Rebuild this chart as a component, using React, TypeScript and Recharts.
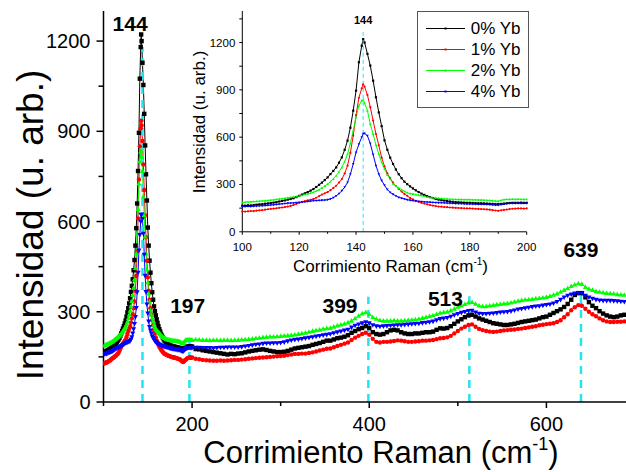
import React from 'react';
import { LineChart, Line, XAxis, YAxis, ReferenceLine, ReferenceDot, CartesianGrid, Legend, Label } from 'recharts';

const FONT = '"Liberation Sans", Arial, Helvetica, sans-serif';

const seriesNames = ['0% Yb', '1% Yb', '2% Yb', '4% Yb'];
const seriesKeys = ['s0', 's1', 's2', 's3'];
const seriesColors = ['#000000', '#ff0000', '#00ff00', '#0000ff'];
const seriesShapes = ['square', 'circle', 'triangleUp', 'triangleDown'];

// Raman shift, 100-200 region (inset + main peak)
const insetX = [
  100, 101, 102, 103, 104, 105, 106, 107, 108, 109,
  110, 111, 112, 113, 114, 115, 116, 117, 118, 119,
  120, 121, 122, 123, 124, 125, 126, 127, 128, 129,
  130, 131, 132, 133, 134, 135, 136, 137, 138, 139,
  140, 141, 142, 142.5,
  143, 144, 145, 146, 147, 148, 149,
  150, 151, 152, 153, 154, 155, 156, 157, 158, 159,
  160, 161, 162, 163, 164, 165, 166, 167, 168, 169,
  170, 171, 172, 173, 174, 175, 176, 177, 178, 179,
  180, 181, 182, 183, 184, 185, 186, 187, 188, 189,
  190, 191, 192, 193, 194, 195, 196, 197, 198, 199, 200,
];
const insetYb0 = [
  165, 166, 168, 167, 170, 172, 174, 175, 178, 180,
  182, 185, 188, 192, 196, 199, 204, 208, 213, 220,
  228, 236, 244, 252, 261, 271, 284, 298, 312, 328,
  345, 366, 386, 408, 438, 472, 520, 578, 660, 768,
  895, 1075, 1180, 1222,
  1200, 1128, 1054, 958, 853, 757, 670,
  580, 520, 470, 430, 395, 365, 340, 318, 302, 288,
  275, 263, 252, 242, 234, 226, 220, 214, 208, 204,
  201, 198, 195, 192, 190, 188, 187, 186, 185, 184,
  184, 183, 182, 181, 181, 180, 179, 178, 177, 176,
  176, 177, 179, 181, 183, 184, 184, 184, 185, 184, 184,
];
const insetYb1 = [
  129, 128, 130, 132, 131, 134, 136, 137, 140, 143,
  145, 147, 149, 152, 154, 157, 160, 164, 170, 177,
  184, 190, 194, 199, 203, 208, 216, 226, 236, 244,
  252, 264, 278, 292, 312, 334, 370, 419, 500, 610,
  740, 850, 910, 935,
  920, 868, 790, 705, 620, 548, 470,
  415, 370, 340, 312, 290, 272, 255, 240, 228, 215,
  205, 197, 190, 184, 179, 174, 170, 166, 163, 160,
  159, 157, 156, 154, 153, 152, 151, 150, 149, 148,
  148, 147, 146, 145, 144, 143, 142, 140, 137, 135,
  133, 136, 139, 141, 144, 146, 147, 148, 148, 147, 148,
];
const insetYb2 = [
  186, 188, 190, 190, 192, 193, 194, 196, 197, 199,
  201, 203, 206, 208, 210, 213, 216, 218, 221, 224,
  228, 232, 237, 241, 245, 250, 258, 267, 278, 290,
  303, 318, 335, 355, 380, 408, 445, 493, 560, 641,
  726, 800, 832, 836,
  815, 768, 683, 620, 550, 493, 440,
  398, 360, 334, 305, 290, 278, 268, 256, 248, 242,
  240, 236, 232, 229, 226, 222, 219, 216, 214, 212,
  211, 209, 208, 207, 206, 206, 205, 205, 204, 204,
  204, 203, 203, 202, 202, 201, 200, 199, 197, 195,
  194, 200, 204, 206, 206, 207, 206, 207, 206, 206, 206,
];
const insetYb4 = [
  159, 160, 161, 160, 162, 163, 164, 165, 166, 168,
  169, 171, 173, 175, 177, 179, 181, 182, 183, 185,
  186, 188, 190, 192, 194, 197, 198, 199, 200, 201,
  203, 208, 216, 228, 242, 260, 283, 313, 365, 430,
  504, 556, 600, 622,
  624, 609, 560, 490, 420, 366, 325,
  295, 268, 250, 238, 228, 218, 213, 208, 203, 200,
  197, 195, 193, 191, 190, 188, 187, 186, 185, 184,
  184, 183, 182, 181, 180, 179, 178, 178, 177, 176,
  176, 175, 175, 174, 174, 174, 173, 172, 170, 169,
  169, 172, 175, 178, 180, 180, 180, 181, 180, 180, 180,
];

// Raman shift, 204-688 region (main chart only)
const mainX = [
  204, 208, 212, 216, 220, 224, 228, 232, 236, 240,
  244, 248, 252, 256, 260, 264, 268, 272, 276, 280,
  284, 288, 292, 296, 300, 304, 308, 312, 316, 320,
  324, 328, 332, 336, 340, 344, 348, 352, 356, 360,
  364, 368, 372, 376, 380, 384, 388, 392, 396, 400,
  404, 408, 412, 416, 420, 424, 428, 432, 436, 440,
  444, 448, 452, 456, 460, 464, 468, 472, 476, 480,
  484, 488, 492, 496, 500, 504, 508, 512, 516, 520,
  524, 528, 532, 536, 540, 544, 548, 552, 556, 560,
  564, 568, 572, 576, 580, 584, 588, 592, 596, 600,
  604, 608, 612, 616, 620, 624, 628, 632, 636, 640,
  644, 648, 652, 656, 660, 664, 668, 672, 676, 680,
  684, 688,
];
const mainYb0 = [
  176, 175, 172, 170, 168, 166, 164, 162, 160, 158,
  160, 159, 161, 162, 165, 168, 170, 172, 174, 175,
  173, 170, 168, 166, 166, 167, 170, 174, 178, 180,
  182, 184, 186, 190, 193, 196, 200, 204, 204, 208,
  212, 214, 217, 222, 230, 236, 242, 246, 252, 246,
  232, 226, 224, 226, 232, 238, 240, 238, 232, 228,
  226, 226, 228, 228, 230, 232, 232, 234, 240, 245,
  244, 246, 252, 260, 268, 275, 282, 288, 290, 284,
  278, 274, 270, 266, 262, 260, 258, 256, 256, 258,
  260, 263, 266, 268, 270, 272, 274, 278, 282, 284,
  290, 296, 302, 308, 316, 326, 340, 356, 362, 362,
  348, 332, 320, 312, 302, 294, 288, 284, 282, 284,
  288, 290,
];
const mainYb1 = [
  144, 142, 140, 139, 138, 137, 137, 138, 137, 138,
  139, 140, 140, 141, 142, 144, 145, 146, 147, 148,
  149, 150, 151, 152, 153, 154, 156, 158, 160, 160,
  161, 161, 163, 165, 168, 171, 174, 177, 178, 182,
  186, 190, 194, 198, 206, 214, 220, 226, 230, 224,
  210, 200, 198, 200, 200, 201, 203, 205, 204, 202,
  200, 200, 201, 202, 204, 204, 205, 206, 209, 212,
  213, 215, 220, 228, 236, 244, 250, 256, 258, 250,
  243, 239, 236, 234, 233, 234, 236, 238, 239, 240,
  241, 243, 244, 246, 248, 250, 252, 255, 257, 259,
  260, 262, 266, 272, 282, 292, 305, 315, 322, 320,
  310, 300, 292, 285, 278, 272, 268, 266, 266, 267,
  267, 268,
];
const mainYb2 = [
  208, 207, 206, 206, 205, 206, 206, 205, 206, 206,
  205, 206, 206, 207, 208, 209, 210, 212, 213, 215,
  216, 217, 217, 218, 219, 220, 221, 222, 224, 226,
  228, 230, 233, 236, 238, 240, 243, 245, 246, 250,
  254, 257, 260, 264, 270, 278, 286, 294, 298, 292,
  282, 276, 272, 270, 270, 270, 271, 270, 270, 271,
  272, 273, 274, 276, 279, 282, 285, 288, 292, 296,
  298, 300, 304, 310, 316, 320, 325, 330, 332, 326,
  320, 318, 318, 320, 322, 324, 325, 327, 328, 330,
  333, 336, 338, 340, 341, 342, 344, 345, 347, 349,
  352, 356, 360, 366, 372, 378, 385, 390, 394, 392,
  382, 376, 372, 368, 366, 364, 362, 361, 360, 358,
  357, 356,
];
const mainYb4 = [
  181, 181, 180, 180, 180, 179, 180, 181, 181, 182,
  182, 182, 182, 183, 185, 187, 189, 191, 192, 194,
  195, 195, 196, 196, 197, 199, 202, 205, 207, 208,
  210, 212, 214, 216, 218, 220, 222, 224, 226, 229,
  232, 235, 238, 241, 248, 254, 258, 262, 266, 262,
  256, 252, 251, 252, 253, 254, 255, 256, 256, 257,
  258, 259, 260, 261, 263, 264, 266, 268, 272, 276,
  278, 280, 284, 289, 293, 297, 300, 303, 304, 298,
  294, 293, 293, 294, 295, 296, 298, 299, 300, 302,
  305, 308, 310, 312, 314, 316, 318, 319, 321, 323,
  325, 328, 333, 340, 348, 354, 358, 361, 362, 361,
  354, 348, 344, 340, 338, 337, 337, 337, 336, 335,
  334, 333,
];

// Peak markers (position, top of dashed line)
const peakPositions = [144, 197, 399, 513, 639];
const peakLineTops = [1180, 215, 350, 352, 356];
const peakLabels = ['144', '197', '399', '513', '639'];
const peakLabelX = [130, 195, 367, 486, 639];
const peakLabelY = [1234, 297, 297, 319, 483];

const insetPeak = 142.5;
const insetPeakTop = 1275;
const insetPeakLabelY = 1319;

const mainXTicks = [100, 200, 300, 400, 500, 600, 700];
const mainXLabeled = [200, 400, 600];
const mainYTicks = [0, 150, 300, 450, 600, 750, 900, 1050, 1200];
const mainYLabeled = [0, 300, 600, 900, 1200];
const insetXTicks = [100, 110, 120, 130, 140, 150, 160, 170, 180, 190, 200];
const insetXLabeled = [100, 120, 140, 160, 180, 200];
const insetYTicks = [0, 150, 300, 450, 600, 750, 900, 1050, 1200, 1350];
const insetYLabeled = [0, 300, 600, 900, 1200];

const insetData = insetX.map((x, i) => ({ x, s0: insetYb0[i], s1: insetYb1[i], s2: insetYb2[i], s3: insetYb4[i] }));
const mainData = [
  ...insetData,
  ...mainX.map((x, i) => ({ x, s0: mainYb0[i], s1: mainYb1[i], s2: mainYb2[i], s3: mainYb4[i] })),
];

function markerDot(shape: string, color: string, s: number) {
  return (props: any) => {
    const { cx, cy, index } = props;
    if (cx == null || cy == null || isNaN(cx) || isNaN(cy)) return <g key={`d${index}`} />;
    if (shape === 'square')
      return <rect key={`d${index}`} x={cx - s} y={cy - s} width={2 * s} height={2 * s} fill={color} />;
    if (shape === 'circle') return <circle key={`d${index}`} cx={cx} cy={cy} r={s} fill={color} />;
    if (shape === 'triangleUp')
      return (
        <path
          key={`d${index}`}
          d={`M${cx},${cy - s * 1.25}L${cx + s * 1.15},${cy + s * 0.85}L${cx - s * 1.15},${cy + s * 0.85}Z`}
          fill={color}
        />
      );
    return (
      <path
        key={`d${index}`}
        d={`M${cx},${cy + s * 1.25}L${cx + s * 1.15},${cy - s * 0.85}L${cx - s * 1.15},${cy - s * 0.85}Z`}
        fill={color}
      />
    );
  };
}

const MainXTick = (props: any) => {
  const { x, y, payload } = props;
  const major = mainXLabeled.includes(payload.value);
  return (
    <g>
      <line x1={x} x2={x} y1={y} y2={y + (major ? 6 : 4)} stroke="#000" strokeWidth={1.5} />
      {major && (
        <text x={x} y={y + 29} textAnchor="middle" fontSize={20} fontFamily={FONT} fill="#000">
          {payload.value}
        </text>
      )}
    </g>
  );
};

const MainYTick = (props: any) => {
  const { x, y, payload } = props;
  const major = mainYLabeled.includes(payload.value);
  return (
    <g>
      <line x1={x} x2={x - (major ? 7 : 5)} y1={y} y2={y} stroke="#000" strokeWidth={1.5} />
      {major && (
        <text x={x - 13} y={y + 7} textAnchor="end" fontSize={20} fontFamily={FONT} fill="#000">
          {payload.value}
        </text>
      )}
    </g>
  );
};

const InsetXTick = (props: any) => {
  const { x, y, payload } = props;
  const major = insetXLabeled.includes(payload.value);
  return (
    <g>
      <line x1={x} x2={x} y1={y} y2={y + (major ? 3 : 2)} stroke="#000" strokeWidth={1} />
      {major && (
        <text x={x} y={y + 19} textAnchor="middle" fontSize={11.5} fontFamily={FONT} fill="#000">
          {payload.value}
        </text>
      )}
    </g>
  );
};

const InsetYTick = (props: any) => {
  const { x, y, payload } = props;
  const major = insetYLabeled.includes(payload.value);
  return (
    <g>
      <line x1={x} x2={x - 3} y1={y} y2={y} stroke="#000" strokeWidth={1} />
      {major && (
        <text x={x - 7} y={y + 4} textAnchor="end" fontSize={11.5} fontFamily={FONT} fill="#000">
          {payload.value}
        </text>
      )}
    </g>
  );
};

const renderLegend = (props: any) => {
  const payload = props.payload || [];
  return (
    <div
      style={{
        width: 112,
        height: 97,
        boxSizing: 'border-box',
        border: '1px solid #555',
        background: '#fff',
        paddingTop: 6,
        fontFamily: FONT,
        fontSize: 17,
        color: '#000',
      }}
    >
      {payload.map((p: any, i: number) => {
        const idx = seriesNames.indexOf(p.value);
        const c = seriesColors[idx >= 0 ? idx : i];
        return (
          <div key={i} style={{ display: 'flex', alignItems: 'center', height: 21, lineHeight: '21px' }}>
            <svg width={53} height={21} style={{ display: 'block' }}>
              <line x1={8} x2={47} y1={10.5} y2={10.5} stroke={c} strokeWidth={1} />
              <rect x={26.5} y={9.5} width={2} height={2} fill={c} />
            </svg>
            <span style={{ whiteSpace: 'nowrap' }}>{p.value}</span>
          </div>
        );
      })}
    </div>
  );
};

export default function App() {
  return (
    <div style={{ position: 'absolute', left: 0, top: 0, width: 626, height: 472, overflow: 'hidden', background: '#fff' }}>
      <div style={{ position: 'absolute', left: 0, top: 0 }}>
        <LineChart width={660} height={472} data={mainData} margin={{ top: 11, right: 25, bottom: 0, left: 0 }}>
          <XAxis
            dataKey="x"
            type="number"
            domain={[100, 700]}
            ticks={mainXTicks}
            interval={0}
            tick={<MainXTick />}
            tickLine={false}
            tickSize={0}
            tickMargin={0}
            height={70}
            axisLine={{ stroke: '#000', strokeWidth: 1.5 }}
            allowDataOverflow
          >
            <Label
              content={() => (
                <text x={381} y={463} textAnchor="middle" fontSize={31} fontFamily={FONT} fill="#000">
                  Corrimiento Raman (cm
                  <tspan dy={-13} fontSize={18}>-1</tspan>
                  <tspan dy={13}>)</tspan>
                </text>
              )}
            />
          </XAxis>
          <XAxis
            xAxisId="top"
            orientation="top"
            type="number"
            domain={[100, 700]}
            tick={false}
            tickLine={false}
            height={0}
            axisLine={{ stroke: '#000', strokeWidth: 1.5 }}
          />
          <YAxis
            type="number"
            domain={[0, 1300]}
            ticks={mainYTicks}
            interval={0}
            tick={<MainYTick />}
            tickLine={false}
            tickSize={0}
            tickMargin={0}
            width={103.5}
            axisLine={{ stroke: '#000', strokeWidth: 1.5 }}
            allowDataOverflow
          >
            <Label
              content={() => (
                <text
                  transform="translate(43,225) rotate(-90)"
                  textAnchor="middle"
                  fontSize={37}
                  fontFamily={FONT}
                  fill="#000"
                >
                  Intensidad (u. arb.)
                </text>
              )}
            />
          </YAxis>
          {seriesKeys.map((k, i) => (
            <Line
              key={k}
              dataKey={k}
              name={seriesNames[i]}
              stroke={seriesColors[i]}
              strokeWidth={1}
              dot={markerDot(seriesShapes[i], seriesColors[i], 2.2)}
              activeDot={false}
              isAnimationActive={false}
            />
          ))}
          {peakPositions.map((p, i) => (
            <ReferenceLine
              key={`pl${i}`}
              segment={[
                { x: p, y: 0 },
                { x: p, y: peakLineTops[i] },
              ]}
              stroke="#22e4f2"
              strokeWidth={2.5}
              strokeDasharray="8 6"
            />
          ))}
          {peakLabels.map((t, i) => (
            <ReferenceDot
              key={`lb${i}`}
              x={peakLabelX[i]}
              y={peakLabelY[i]}
              r={0}
              ifOverflow="visible"
              shape={(p: any) => (
                <text
                  x={p.cx}
                  y={p.cy}
                  textAnchor="middle"
                  fontSize={21}
                  fontWeight="bold"
                  fontFamily={FONT}
                  fill="#000"
                >
                  {t}
                </text>
              )}
            />
          ))}
        </LineChart>
      </div>

      <div style={{ position: 'absolute', left: 180, top: 0 }}>
        <LineChart width={360} height={290} data={insetData} margin={{ top: 11, right: 13.3, bottom: 0, left: 0 }}>
          <CartesianGrid horizontal={false} vertical={false} fill="#ffffff" />
          <XAxis
            dataKey="x"
            type="number"
            domain={[100, 200]}
            ticks={insetXTicks}
            interval={0}
            tick={<InsetXTick />}
            tickLine={false}
            tickSize={0}
            tickMargin={0}
            height={58.2}
            axisLine={{ stroke: '#000', strokeWidth: 1 }}
          >
            <Label
              content={() => (
                <text x={210.5} y={272} textAnchor="middle" fontSize={17} fontFamily={FONT} fill="#000">
                  Corrimiento Raman (cm
                  <tspan dy={-7} fontSize={10}>-1</tspan>
                  <tspan dy={7}>)</tspan>
                </text>
              )}
            />
          </XAxis>
          <XAxis
            xAxisId="top"
            orientation="top"
            type="number"
            domain={[100, 200]}
            tick={false}
            tickLine={false}
            height={0}
            axisLine={{ stroke: '#000', strokeWidth: 1 }}
          />
          <YAxis
            type="number"
            domain={[0, 1400]}
            ticks={insetYTicks}
            interval={0}
            tick={<InsetYTick />}
            tickLine={false}
            tickSize={0}
            tickMargin={0}
            width={62.3}
            axisLine={{ stroke: '#000', strokeWidth: 1 }}
          >
            <Label
              content={() => (
                <text
                  transform="translate(25,122) rotate(-90)"
                  textAnchor="middle"
                  fontSize={17}
                  fontFamily={FONT}
                  fill="#000"
                >
                  Intensidad (u. arb.)
                </text>
              )}
            />
          </YAxis>
          <YAxis
            yAxisId="right"
            orientation="right"
            type="number"
            domain={[0, 1400]}
            tick={false}
            tickLine={false}
            width={0}
            axisLine={{ stroke: '#000', strokeWidth: 1 }}
          />
          {seriesKeys.map((k, i) => (
            <Line
              key={k}
              dataKey={k}
              name={seriesNames[i]}
              stroke={seriesColors[i]}
              strokeWidth={1}
              dot={markerDot(seriesShapes[i], seriesColors[i], 1.1)}
              activeDot={false}
              isAnimationActive={false}
            />
          ))}
          <ReferenceLine
            segment={[
              { x: insetPeak, y: 0 },
              { x: insetPeak, y: insetPeakTop },
            ]}
            stroke="#22e4f2"
            strokeWidth={1}
            strokeDasharray="4 3"
          />
          <ReferenceDot
            x={insetPeak}
            y={insetPeakLabelY}
            r={0}
            ifOverflow="visible"
            shape={(p: any) => (
              <text x={p.cx} y={p.cy} textAnchor="middle" fontSize={11} fontWeight="bold" fontFamily={FONT} fill="#000">
                144
              </text>
            )}
          />
          <Legend
            layout="vertical"
            align="center"
            verticalAlign="middle"
            content={renderLegend}
            wrapperStyle={{ left: 236.7, top: 11, width: 112, height: 97 }}
          />
        </LineChart>
      </div>
    </div>
  );
}
